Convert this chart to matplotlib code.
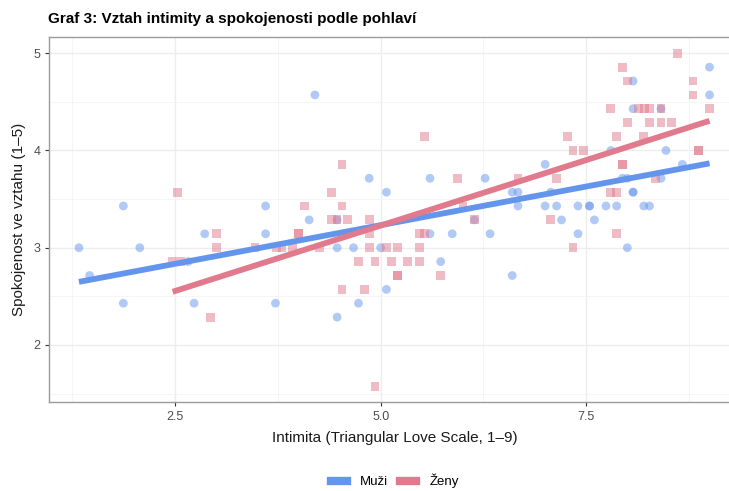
import numpy as np
import matplotlib
matplotlib.use("Agg")
import matplotlib.pyplot as plt
from matplotlib.lines import Line2D

plt.rcParams["font.family"] = ["Liberation Sans", "DejaVu Sans"]

# intimacy (x) and satisfaction (y)
muzi_x = [1.33, 1.46, 1.87, 1.87, 2.07, 2.66, 2.73, 2.86, 3.60, 3.60,
          3.72, 4.13, 4.20, 4.47, 4.47, 4.47, 4.67, 4.73, 4.86, 5.00,
          5.07, 5.07, 5.60, 5.60, 5.73, 5.87, 6.14, 6.27, 6.33, 6.60,
          6.60, 6.67, 6.67, 7.00, 7.00, 7.07, 7.14, 7.20, 7.40, 7.40,
          7.54, 7.54, 7.60, 7.74, 7.80, 7.87, 7.94, 8.00, 8.00, 8.07,
          8.07, 8.07, 8.07, 8.20, 8.27, 8.41, 8.41, 8.47, 8.67, 9.00,
          9.00]
muzi_y = [3.000, 2.714, 3.429, 2.429, 3.000, 2.857, 2.429, 3.143, 3.429, 3.143,
          2.429, 3.286, 4.571, 3.286, 3.000, 2.286, 3.000, 2.429, 3.714, 3.000,
          3.571, 2.571, 3.714, 3.143, 2.857, 3.143, 3.286, 3.714, 3.143, 3.571,
          2.714, 3.571, 3.429, 3.857, 3.429, 3.571, 3.429, 3.286, 3.429, 3.143,
          3.429, 3.429, 3.286, 3.429, 4.000, 3.429, 3.714, 3.714, 3.000, 4.714,
          4.429, 3.571, 3.571, 3.429, 3.429, 4.429, 3.714, 4.000, 3.857, 4.857,
          4.571]

zeny_x = [2.47, 2.53, 2.57, 2.93, 3.00, 3.00, 3.47, 3.73, 3.80, 3.93,
          4.00, 4.00, 4.07, 4.26, 4.40, 4.40, 4.47, 4.53, 4.53, 4.53,
          4.60, 4.73, 4.80, 4.86, 4.86, 4.86, 4.93, 4.93, 5.07, 5.13,
          5.20, 5.20, 5.20, 5.33, 5.47, 5.53, 5.47, 5.47, 5.53, 5.73,
          5.93, 6.00, 6.14, 6.67, 7.07, 7.14, 7.27, 7.34, 7.34, 7.47,
          7.80, 7.80, 7.87, 7.87, 7.87, 7.94, 7.94, 7.94, 8.00, 8.00,
          8.14, 8.21, 8.20, 8.27, 8.27, 8.34, 8.41, 8.41, 8.54, 8.61,
          8.80, 8.80, 8.87, 8.87, 9.00]
zeny_y = [2.857, 3.571, 2.857, 2.286, 3.143, 3.000, 3.000, 3.000, 3.000, 3.000,
          3.143, 3.143, 3.429, 3.000, 3.571, 3.286, 3.286, 3.857, 3.429, 2.571,
          3.286, 2.857, 2.571, 3.286, 3.143, 3.000, 2.857, 1.571, 3.000, 2.857,
          3.000, 2.714, 2.714, 2.857, 3.143, 3.143, 3.000, 2.857, 4.143, 2.714,
          3.714, 3.429, 3.286, 3.714, 3.286, 3.714, 4.143, 4.000, 3.000, 4.000,
          4.429, 3.571, 4.143, 3.571, 3.143, 4.857, 3.857, 3.857, 4.714, 4.286,
          4.429, 4.429, 4.143, 4.429, 4.286, 3.714, 4.429, 4.286, 4.286, 5.000,
          4.714, 4.571, 4.000, 4.000, 4.429]

groups = ["Muži", "Ženy"]
colors = {"Muži": "#6495ED", "Ženy": "#E07A8C"}
markers = {"Muži": "o", "Ženy": "s"}
data = {"Muži": (muzi_x, muzi_y), "Ženy": (zeny_x, zeny_y)}

fig = plt.figure(figsize=(7.29, 4.91), dpi=100)
ax = fig.add_axes([0.0668, 0.1806, 0.9497, 0.7447])

for g in groups:
    x = np.array(data[g][0])
    y = np.array(data[g][1])
    ax.scatter(x, y, s=40, marker=markers[g], color=colors[g], alpha=0.5,
               edgecolors="none", zorder=3)

for g in groups:
    x = np.array(data[g][0])
    y = np.array(data[g][1])
    slope, icpt = np.polyfit(x, y, 1)
    xs = np.array([x.min(), x.max()])
    ax.plot(xs, icpt + slope * xs, color=colors[g], lw=4.2,
            solid_capstyle="butt", zorder=4)

ax.set_xlim(0.962, 9.383)
ax.set_ylim(1.41, 5.17)
ax.set_xticks([2.5, 5.0, 7.5])
ax.set_xticklabels(["2.5", "5.0", "7.5"])
ax.set_xticks([1.25, 3.75, 6.25, 8.75], minor=True)
ax.set_yticks([2, 3, 4, 5])
ax.set_yticks([1.5, 2.5, 3.5, 4.5], minor=True)
ax.grid(True, which="major", color="#EDEDED", lw=1.0, zorder=0)
ax.grid(True, which="minor", color="#F4F4F4", lw=0.6, zorder=0)
ax.set_axisbelow(True)
ax.tick_params(which="major", length=3, width=0.8, color="#333333",
               labelsize=9, labelcolor="#4D4D4D", pad=3)
ax.tick_params(which="minor", length=0)
for side in ["left", "bottom", "top", "right"]:
    ax.spines[side].set_color("#9A9A9A")
    ax.spines[side].set_linewidth(1.0)

ax.set_xlabel("Intimita (Triangular Love Scale, 1–9)", fontsize=11,
              color="#1A1A1A", labelpad=6)
ax.set_ylabel("Spokojenost ve vztahu (1–5)", fontsize=11, color="#1A1A1A",
              labelpad=5)
fig.text(48 / 729, 1 - 19 / 491, "Graf 3: Vztah intimity a spokojenosti podle pohlaví",
         fontsize=11, fontweight="bold", ha="left", va="center")

handles = [Line2D([0], [0], color=colors[g], lw=6) for g in groups]
fig.legend(handles, groups, loc="center", bbox_to_anchor=(395 / 729, 1 - 481 / 491),
           ncol=2, frameon=False, fontsize=9.5, handlelength=1.2,
           columnspacing=0.9, handletextpad=1.0)

fig.savefig("out.png", dpi=100)
